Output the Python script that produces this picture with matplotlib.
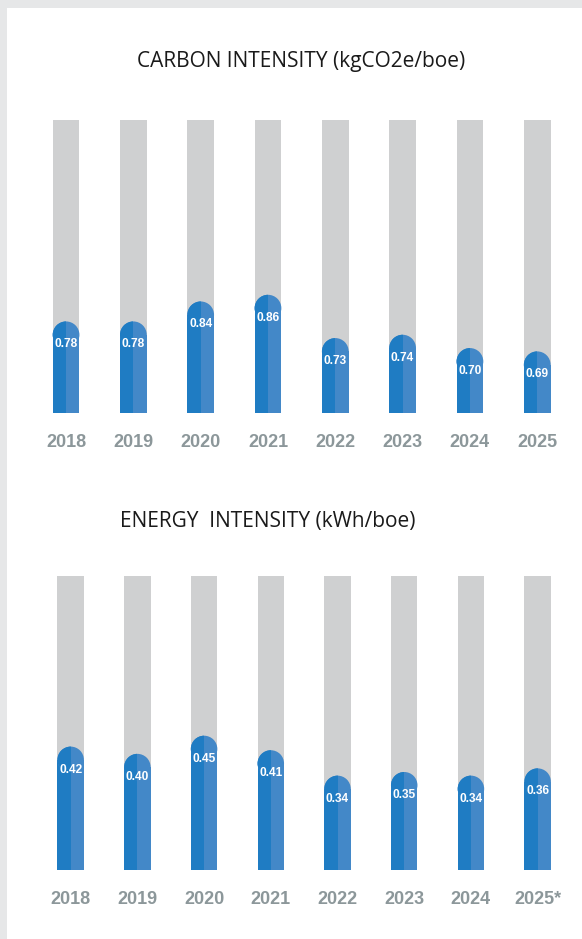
import matplotlib
matplotlib.use("Agg")
import matplotlib.pyplot as plt
from matplotlib.patches import Rectangle, Ellipse

# ---- data ----
years_carbon = ["2018", "2019", "2020", "2021", "2022", "2023", "2024", "2025"]
carbon_values = [0.78, 0.78, 0.84, 0.86, 0.73, 0.74, 0.70, 0.69]
carbon_title = "CARBON INTENSITY (kgCO2e/boe)"

years_energy = ["2018", "2019", "2020", "2021", "2022", "2023", "2024", "2025*"]
energy_values = [0.42, 0.40, 0.45, 0.41, 0.34, 0.35, 0.34, 0.36]
energy_title = "ENERGY  INTENSITY (kWh/boe)"

# axis ranges (scale of the gray track)
carbon_ylim = (0.505, 1.385)
energy_ylim = (0.08, 0.89)

# ---- style ----
W, H = 582, 939
DPI = 100
GRAY_TRACK = "#cfd0d1"
BLUE_DARK = "#1f7cc3"
BLUE_LIGHT = "#4388c8"
YEAR_COLOR = "#8c979a"
BG = "#e6e7e8"
BAR_W = 0.397

fig = plt.figure(figsize=(W / DPI, H / DPI), dpi=DPI)
fig.patch.set_facecolor(BG)
fig.patches.append(Rectangle((7 / W, 0), 1 - 7 / W, 1 - 8 / H, transform=fig.transFigure,
                             facecolor="white", edgecolor="none", zorder=-10))


def px_axes(left, top, right, bottom):
    ax = fig.add_axes([left / W, 1 - bottom / H, (right - left) / W, (bottom - top) / H])
    ax.set_zorder(1)
    return ax


def draw_chart(ax, years, values, ylim, title, title_xy):
    n = len(values)
    ax.set_xlim(-0.5, n - 0.5)
    ax.set_ylim(*ylim)
    ax.set_axis_off()
    bbox = ax.get_window_extent()
    ppu_x = bbox.width / n
    ppu_y = bbox.height / (ylim[1] - ylim[0])
    r_px = BAR_W * ppu_x / 2
    r_y = r_px / ppu_y
    ylo = ylim[0]
    xs = list(range(n))
    # gray tracks
    ax.bar(xs, [ylim[1] - ylo] * n, width=BAR_W, bottom=ylo, color=GRAY_TRACK, linewidth=0, zorder=1)
    for x, v, yr in zip(xs, values, years):
        body_top = v - r_y
        ax.bar(x - BAR_W / 4, body_top - ylo, width=BAR_W / 2, bottom=ylo,
               color=BLUE_DARK, linewidth=0, zorder=2)
        ax.bar(x + BAR_W / 4, body_top - ylo, width=BAR_W / 2, bottom=ylo,
               color=BLUE_LIGHT, linewidth=0, zorder=2)
        cap_l = Ellipse((x, body_top), BAR_W, 2 * r_y, facecolor=BLUE_LIGHT,
                        edgecolor="none", zorder=2)
        ax.add_patch(cap_l)
        cap_d = Ellipse((x, body_top), BAR_W, 2 * r_y, facecolor=BLUE_DARK,
                        edgecolor="none", zorder=3)
        ax.add_patch(cap_d)
        clip = Rectangle((x - BAR_W / 2 - 0.01, body_top - r_y * 1.1), BAR_W / 2 + 0.01, 2.2 * r_y,
                         transform=ax.transData)
        cap_d.set_clip_path(clip)
        ax.annotate(f"{v:.2f}", (x, v), xytext=(0, -16.5), textcoords="offset points",
                    ha="center", va="center", color="white", fontsize=8.6,
                    fontweight="bold", family="Liberation Sans", zorder=5)
        ax.annotate(yr, (x, ylo), xytext=(0, -21.5), textcoords="offset points",
                    ha="center", va="center", color=YEAR_COLOR, fontsize=13,
                    fontweight="bold", family="Liberation Sans", annotation_clip=False)
    fig.text(title_xy[0] / W, 1 - title_xy[1] / H, title, ha="center", va="center",
             fontsize=15, color="#1a1a1a", family="Open Sans")


ax1 = px_axes(66 - 33.6, 120, 537.3 + 33.6, 413)
draw_chart(ax1, years_carbon, carbon_values, carbon_ylim, carbon_title, (301, 62))

ax2 = px_axes(70.7 - 33.4, 576, 537.6 + 33.4, 870)
draw_chart(ax2, years_energy, energy_values, energy_ylim, energy_title, (267.5, 522))

fig.savefig("out.png", dpi=DPI, facecolor=fig.get_facecolor())
